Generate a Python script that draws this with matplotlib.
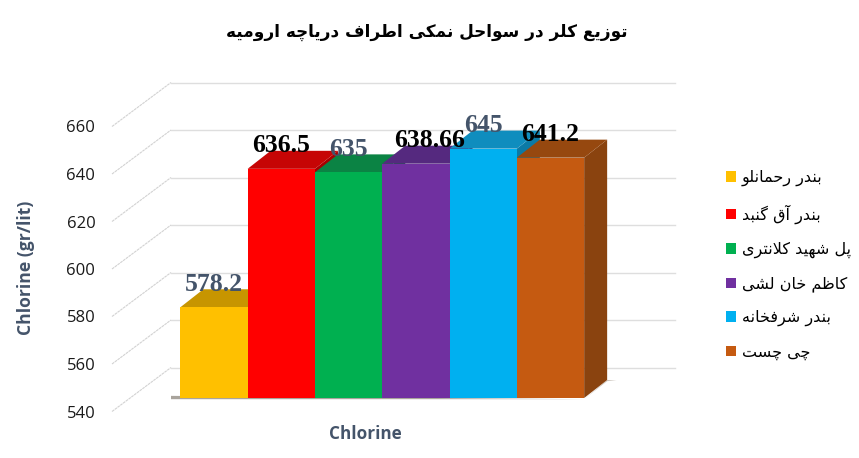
import matplotlib
matplotlib.use("Agg")
import matplotlib.pyplot as plt
from matplotlib.patches import Polygon
from matplotlib.transforms import Affine2D

TITLE = "توزیع کلر در سواحل نمکی اطراف دریاچه ارومیه"
categories = ["بندر رحمانلو", "بندر آق گنبد", "پل شهید کلانتری", "کاظم خان لشی", "بندر شرفخانه", "چی چست"]
values = [578.2, 636.5, 635, 638.66, 645, 641.2]
value_labels = ["578.2", "636.5", "635", "638.66", "645", "641.2"]
yticks = [540, 560, 580, 600, 620, 640, 660]
front_colors = ["#FFC000", "#FF0000", "#00B050", "#7030A0", "#00B0F0", "#C55A11"]
top_colors = ["#C79500", "#C60505", "#0B8344", "#55297F", "#0F8DBE", "#96480F"]
side_colors = ["#B58A00", "#A80000", "#087038", "#4A2370", "#0B7AA6", "#8A430F"]
label_colors = ["#44546A", "#000000", "#44546A", "#000000", "#44546A", "#000000"]
label_dx = [0, 0, 0, 14, 0, 0]

FORMS = {
    'ا': (0xFE8D, 0xFE8E), 'آ': (0xFE81, 0xFE82), 'د': (0xFEA9, 0xFEAA), 'ذ': (0xFEAB, 0xFEAC),
    'ر': (0xFEAD, 0xFEAE), 'ز': (0xFEAF, 0xFEB0), 'و': (0xFEED, 0xFEEE),
    'ب': (0xFE8F, 0xFE90, 0xFE91, 0xFE92), 'پ': (0xFB56, 0xFB57, 0xFB58, 0xFB59),
    'ت': (0xFE95, 0xFE96, 0xFE97, 0xFE98), 'ج': (0xFE9D, 0xFE9E, 0xFE9F, 0xFEA0),
    'چ': (0xFB7A, 0xFB7B, 0xFB7C, 0xFB7D), 'ح': (0xFEA1, 0xFEA2, 0xFEA3, 0xFEA4),
    'خ': (0xFEA5, 0xFEA6, 0xFEA7, 0xFEA8), 'س': (0xFEB1, 0xFEB2, 0xFEB3, 0xFEB4),
    'ش': (0xFEB5, 0xFEB6, 0xFEB7, 0xFEB8), 'ط': (0xFEC1, 0xFEC2, 0xFEC3, 0xFEC4),
    'ظ': (0xFEC5, 0xFEC6, 0xFEC7, 0xFEC8), 'ع': (0xFEC9, 0xFECA, 0xFECB, 0xFECC),
    'ف': (0xFED1, 0xFED2, 0xFED3, 0xFED4), 'ق': (0xFED5, 0xFED6, 0xFED7, 0xFED8),
    'ک': (0xFB8E, 0xFB8F, 0xFB90, 0xFB91), 'گ': (0xFB92, 0xFB93, 0xFB94, 0xFB95),
    'ل': (0xFEDD, 0xFEDE, 0xFEDF, 0xFEE0), 'م': (0xFEE1, 0xFEE2, 0xFEE3, 0xFEE4),
    'ن': (0xFEE5, 0xFEE6, 0xFEE7, 0xFEE8), 'ه': (0xFEE9, 0xFEEA, 0xFEEB, 0xFEEC),
    'ی': (0xFBFC, 0xFBFD, 0xFBFE, 0xFBFF),
}


def shape(text):
    text = text.replace('لا', '\uE000')
    out = []
    for i, ch in enumerate(text):
        prev = text[i - 1] if i else ' '
        nxt = text[i + 1] if i + 1 < len(text) else ' '
        joins_prev = prev in FORMS and len(FORMS[prev]) == 4
        joins_next = nxt in FORMS or nxt == '\uE000'
        if ch == '\uE000':
            out.append(chr(0xFEFC if joins_prev else 0xFEFB))
        elif ch in FORMS:
            f = FORMS[ch]
            if len(f) == 2:
                out.append(chr(f[1] if joins_prev else f[0]))
            elif joins_prev and joins_next:
                out.append(chr(f[3]))
            elif joins_prev:
                out.append(chr(f[1]))
            elif joins_next:
                out.append(chr(f[2]))
            else:
                out.append(chr(f[0]))
        else:
            out.append(ch)
    return ''.join(reversed(out))


W, H = 859, 458
fig = plt.figure(figsize=(W / 100, H / 100), dpi=100)
ax_l, ax_r, ax_top, ax_bot = 112, 675, 126.5, 411.5
ax = fig.add_axes([ax_l / W, 1 - ax_bot / H, (ax_r - ax_l) / W, (ax_bot - ax_top) / H])
px_x = 67.3
px_y = (ax_bot - ax_top) / 120
ax.set_xlim((ax_l - 214) / px_x, (ax_r - 214) / px_x)
ax.set_ylim(540, 660)
for s in ax.spines.values():
    s.set_visible(False)
ax.set_xticks([])
ax.set_yticks(yticks)
ax.tick_params(axis='y', length=0, pad=12, labelsize=12, labelcolor='#1a1a1a')
for t in ax.get_yticklabels():
    t.set_fontfamily('Open Sans')

# back wall gridlines and left wall diagonals
wall_x = (171 - 214) / px_x
wall_y = 44 / px_y
for v in yticks:
    ax.plot([ax.get_xlim()[0], wall_x], [v, v + wall_y], color='#d2d2d2', lw=0.8, ls=(0, (2.5, 0.6)), clip_on=False, zorder=1)
    ax.plot([wall_x, ax.get_xlim()[1]], [v + wall_y, v + wall_y], color='#dedede', lw=1.0, clip_on=False, zorder=1)

# bars sit on a plane lifted from the axis plane
lift = Affine2D().translate(0, 13.5)
plane = ax.transData + lift
depth_x = 23 / px_x
depth_y = 18 / px_y
base = yticks[0]

# floor shadow
ax.add_patch(Polygon([(wall_x, base - 0.5), (5.5, base - 0.5), (wall_x, base + 0.9)],
                     closed=True, fc='#a9a49c', ec='none', transform=plane, clip_on=False, zorder=2))
ax.add_patch(Polygon([(5.5, base - 0.5), (5.5 + depth_x, base + depth_y - 0.5),
                      (5.5 + depth_x + 0.14, base + depth_y), (5.5 + depth_x, base + depth_y)],
                     closed=True, fc='#cbc4bc', ec='none', transform=plane, clip_on=False, zorder=2))

handles = []
for i, v in enumerate(values):
    l, r = i - 0.5, i + 0.5
    z = 3 + i
    ax.add_patch(Polygon([(r, base), (r + depth_x, base + depth_y), (r + depth_x, v + depth_y), (r, v)],
                         closed=True, fc=side_colors[i], ec='none', transform=plane, clip_on=False, zorder=z))
    ax.add_patch(Polygon([(l, v), (r, v), (r + depth_x, v + depth_y), (l + depth_x, v + depth_y)],
                         closed=True, fc=top_colors[i], ec='none', transform=plane, clip_on=False, zorder=z))
    bc = ax.bar([i], [v - base], bottom=base, width=1.0, color=front_colors[i], transform=plane,
                clip_on=False, zorder=z, label=shape(categories[i]), linewidth=0)
    handles.append(bc)

for i, v in enumerate(values):
    ax.annotate(value_labels[i], xy=(i, v), xycoords=plane, xytext=(label_dx[i], 23), textcoords='offset pixels',
                ha='center', va='center', fontsize=18.5, fontweight='bold', family='Liberation Serif',
                color=label_colors[i], zorder=20, annotation_clip=False)

fig.text(427 / W, 1 - 32 / H, shape(TITLE), ha='center', va='center', fontsize=12.2, fontweight='bold',
         family='DejaVu Sans', color='black')
fig.text(365 / W, 1 - 434 / H, 'Chlorine', ha='center', va='center', fontsize=12.3, fontweight='bold',
         family='Open Sans', color='#44546A')
fig.text(26 / W, 1 - 268 / H, 'Chlorine (gr/lit)', ha='center', va='center', rotation=90, fontsize=12.6,
         fontweight='bold', family='Open Sans', color='#44546A')

leg = ax.legend(handles=handles, loc='upper left', bbox_to_anchor=(726 / W, 1 - 170 / H),
                bbox_transform=fig.transFigure, frameon=False, fontsize=11.5, labelspacing=1.13,
                handlelength=0.63, handleheight=0.63, handletextpad=0.35, borderpad=0, borderaxespad=0)
for t in leg.get_texts():
    t.set_family('DejaVu Sans')

fig.savefig('out.png', dpi=100)
